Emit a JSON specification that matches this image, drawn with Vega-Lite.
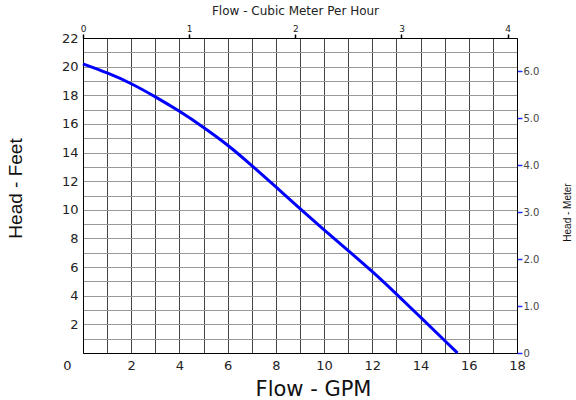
{
  "$schema": "https://vega.github.io/schema/vega-lite/v6.json",
  "autosize": {"type": "none"},
  "width": 434,
  "height": 315,
  "padding": {"left": 83, "top": 38, "right": 59, "bottom": 47},
  "background": "white",
  "config": {"font": "DejaVu Sans", "view": {"stroke": "black", "strokeWidth": 1}},
  "layer": [
    {
      "data": {"values": [
        {"gpm": 0, "ft": 20.19},
        {"gpm": 1, "ft": 19.58},
        {"gpm": 2, "ft": 18.84},
        {"gpm": 3, "ft": 17.9},
        {"gpm": 4, "ft": 16.9},
        {"gpm": 5, "ft": 15.77},
        {"gpm": 6, "ft": 14.55},
        {"gpm": 7, "ft": 13.1},
        {"gpm": 8, "ft": 11.6},
        {"gpm": 9, "ft": 10.08},
        {"gpm": 10, "ft": 8.6},
        {"gpm": 11, "ft": 7.15},
        {"gpm": 12, "ft": 5.7},
        {"gpm": 13, "ft": 4.12},
        {"gpm": 14, "ft": 2.5},
        {"gpm": 15, "ft": 0.87},
        {"gpm": 15.53, "ft": 0}
      ]},
      "mark": {"type": "line", "color": "#0000ff", "strokeWidth": 3, "interpolate": "basis"},
      "encoding": {
        "x": {
          "field": "gpm", "type": "quantitative",
          "scale": {"domain": [0, 18], "nice": false},
          "axis": {
            "orient": "bottom", "title": "Flow - GPM",
            "values": [0,1,2,3,4,5,6,7,8,9,10,11,12,13,14,15,16,17,18],
            "labelExpr": "datum.value % 2 == 0 ? datum.label : ''",
            "grid": true, "gridColor": "#444444", "gridOpacity": 1, "gridWidth": 1,
            "ticks": false, "domainColor": "black",
            "labelFontSize": 13, "labelColor": "#222222", "labelPadding": 6, "labelFlush": false,
            "labelOffset": {"condition": {"test": "datum.value == 0", "value": -16}, "value": 0},
            "titleFontSize": 21, "titleFontWeight": "normal", "titleColor": "#111111", "titlePadding": 6,
            "titleX": 230
          }
        },
        "y": {
          "field": "ft", "type": "quantitative",
          "scale": {"domain": [0, 22], "nice": false},
          "axis": {
            "orient": "left", "title": "Head - Feet",
            "values": [0,1,2,3,4,5,6,7,8,9,10,11,12,13,14,15,16,17,18,19,20,21,22],
            "labelExpr": "datum.value % 2 == 0 && datum.value > 0 ? datum.label : ''",
            "grid": true, "gridColor": "#999999", "gridOpacity": 1, "gridWidth": 1,
            "ticks": false, "domainColor": "black",
            "labelFontSize": 13, "labelColor": "#222222", "labelPadding": 5, "labelFlush": false,
            "titleFont": "Liberation Sans", "titleFontSize": 19, "titleFontWeight": "normal", "titleColor": "#111111",
            "titlePadding": 36, "titleY": 150
          }
        }
      }
    },
    {
      "data": {"values": [{"m3h": 0, "m": 0}, {"m3h": 4.088, "m": 6.706}]},
      "mark": {"type": "point", "opacity": 0},
      "encoding": {
        "x": {
          "field": "m3h", "type": "quantitative",
          "scale": {"domain": [0, 4.088], "nice": false},
          "axis": {
            "orient": "top", "title": "Flow - Cubic Meter Per Hour",
            "values": [0, 1, 2, 3, 4], "format": "d",
            "grid": false, "tickSize": 4, "tickColor": "black", "tickWidth": 1.5, "domainColor": "black",
            "labelFontSize": 9, "labelColor": "#222222", "labelPadding": 1, "labelFlush": false,
            "titleFontSize": 12, "titleFontWeight": "normal", "titleColor": "#222222", "titlePadding": 7,
            "titleX": 212
          }
        },
        "y": {
          "field": "m", "type": "quantitative",
          "scale": {"domain": [0, 6.706], "nice": false},
          "axis": {
            "orient": "right", "title": "Head - Meter",
            "values": [0, 1, 2, 3, 4, 5, 6],
            "labelExpr": "datum.value == 0 ? '0' : format(datum.value, '.1f')",
            "grid": false, "tickSize": 5, "tickColor": "#2233ff", "tickWidth": 1.5, "domainColor": "black",
            "labelFontSize": 10, "labelColor": "#444444", "labelPadding": 1, "labelFlush": false,
            "titleFont": "Liberation Sans", "titleFontSize": 10, "titleFontWeight": "normal", "titleColor": "#111111",
            "titlePadding": 34, "titleAngle": 270, "titleY": 174
          }
        }
      }
    }
  ],
  "resolve": {"scale": {"x": "independent", "y": "independent"}}
}
